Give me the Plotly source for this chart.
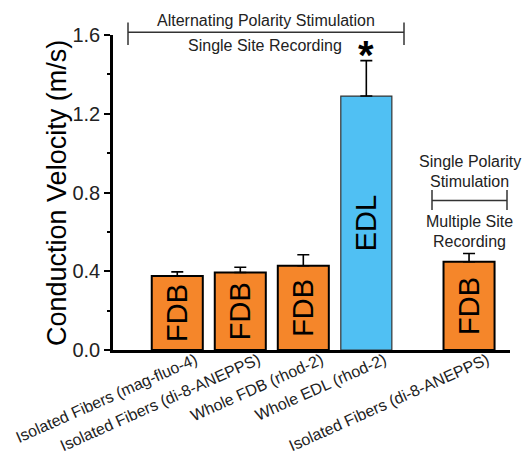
import plotly.graph_objects as go

categories = ["Isolated Fibers (mag-fluo-4)", "Isolated Fibers (di-8-ANEPPS)",
              "Whole FDB (rhod-2)", "Whole EDL (rhod-2)", "Isolated Fibers (di-8-ANEPPS)"]
muscle = ["FDB", "FDB", "FDB", "EDL", "FDB"]
velocity = [0.376, 0.394, 0.428, 1.29, 0.448]
sem = [0.021, 0.026, 0.056, 0.18, 0.042]
y_ticks = [0.0, 0.4, 0.8, 1.2, 1.6]

x_pos = [0, 1, 2, 3, 4.63]
ORANGE = "#F5862A"
BLUE = "#50C0F3"
colors = [BLUE if m == "EDL" else ORANGE for m in muscle]
line_colors = ["#333333" if m == "EDL" else "black" for m in muscle]
line_widths = [1.2 if m == "EDL" else 2 for m in muscle]

FONT = "Liberation Sans, Arial, sans-serif"

fig = go.Figure()
fig.add_trace(go.Bar(
    x=x_pos, y=velocity, width=0.81,
    marker=dict(color=colors, line=dict(color=line_colors, width=line_widths)),
    text=muscle, textposition="inside", insidetextanchor="middle", textangle=-90,
    textfont=dict(size=29, color="black", family=FONT),
    error_y=dict(type="data", symmetric=False, array=sem, arrayminus=[0] * len(sem),
                 color="black", thickness=1.6, width=6),
    showlegend=False,
))

def px2x(p):
    return (p - 113) / 397

def px2y(p):
    return (350 - p) / 315

shapes = []
# top bracket
shapes.append(dict(type="line", xref="paper", yref="paper", x0=px2x(128), x1=px2x(404), y0=px2y(32.3), y1=px2y(32.3), line=dict(color="#333", width=1.5)))
shapes.append(dict(type="line", xref="paper", yref="paper", x0=px2x(128), x1=px2x(128), y0=px2y(22.5), y1=px2y(45), line=dict(color="#333", width=1.5)))
shapes.append(dict(type="line", xref="paper", yref="paper", x0=px2x(404), x1=px2x(404), y0=px2y(22.5), y1=px2y(45), line=dict(color="#333", width=1.5)))
# right bracket
shapes.append(dict(type="line", xref="paper", yref="paper", x0=px2x(432), x1=px2x(507), y0=px2y(200.5), y1=px2y(200.5), line=dict(color="#333", width=1.5)))
shapes.append(dict(type="line", xref="paper", yref="paper", x0=px2x(432), x1=px2x(432), y0=px2y(190), y1=px2y(210), line=dict(color="#333", width=1.5)))
shapes.append(dict(type="line", xref="paper", yref="paper", x0=px2x(507), x1=px2x(507), y0=px2y(190), y1=px2y(210), line=dict(color="#333", width=1.5)))

anns = []
def txt(s, px, py, size=16, angle=0, color="#222"):
    anns.append(dict(text=s, xref="paper", yref="paper", x=px2x(px), y=px2y(py),
                     xanchor="center", yanchor="middle", showarrow=False, textangle=angle,
                     font=dict(size=size, color=color, family=FONT)))

txt("Alternating Polarity Stimulation", 266, 21)
txt("Single Site Recording", 265, 45)
txt("Single Polarity", 469.5, 161)
txt("Stimulation", 469.5, 181)
txt("Multiple Site", 469.5, 221)
txt("Recording", 469.5, 241)
txt("Conduction Velocity (m/s)", 57, 193, size=27, angle=-90, color="black")

anns.append(dict(text="<b>*</b>", x=x_pos[3], y=velocity[3] + sem[3], xref="x", yref="y",
                 xanchor="center", yanchor="bottom", showarrow=False, yshift=-18,
                 font=dict(size=40, color="black", family=FONT)))

fig.update_layout(
    width=523, height=456,
    margin=dict(l=113, r=13, t=35, b=106, autoexpand=False),
    paper_bgcolor="white", plot_bgcolor="white",
    font=dict(family=FONT, color="black"),
    shapes=shapes, annotations=anns,
    xaxis=dict(range=[-1.02, 5.28], tickmode="array", tickvals=x_pos, ticktext=categories,
               tickangle=-24, tickfont=dict(size=16, color="#222"), showline=True,
               ticklabelshift=18, ticklabelstandoff=-8, automargin=False,
               linecolor="black", linewidth=2.5, ticks="", showgrid=False, zeroline=False),
    yaxis=dict(range=[0, 1.6], tickmode="array", tickvals=y_ticks, automargin=False,
               ticktext=[f"{v:.1f}" for v in y_ticks], tickfont=dict(size=20, color="#222"),
               showline=True, linecolor="black", linewidth=2.5, ticks="outside", ticklen=6,
               tickwidth=2, tickcolor="black", showgrid=False, zeroline=False,
               minor=dict(tickvals=[0.2, 0.6, 1.0, 1.4], ticks="outside", ticklen=3, tickwidth=1.5, tickcolor="black")),
)

fig.write_html("out.html")
